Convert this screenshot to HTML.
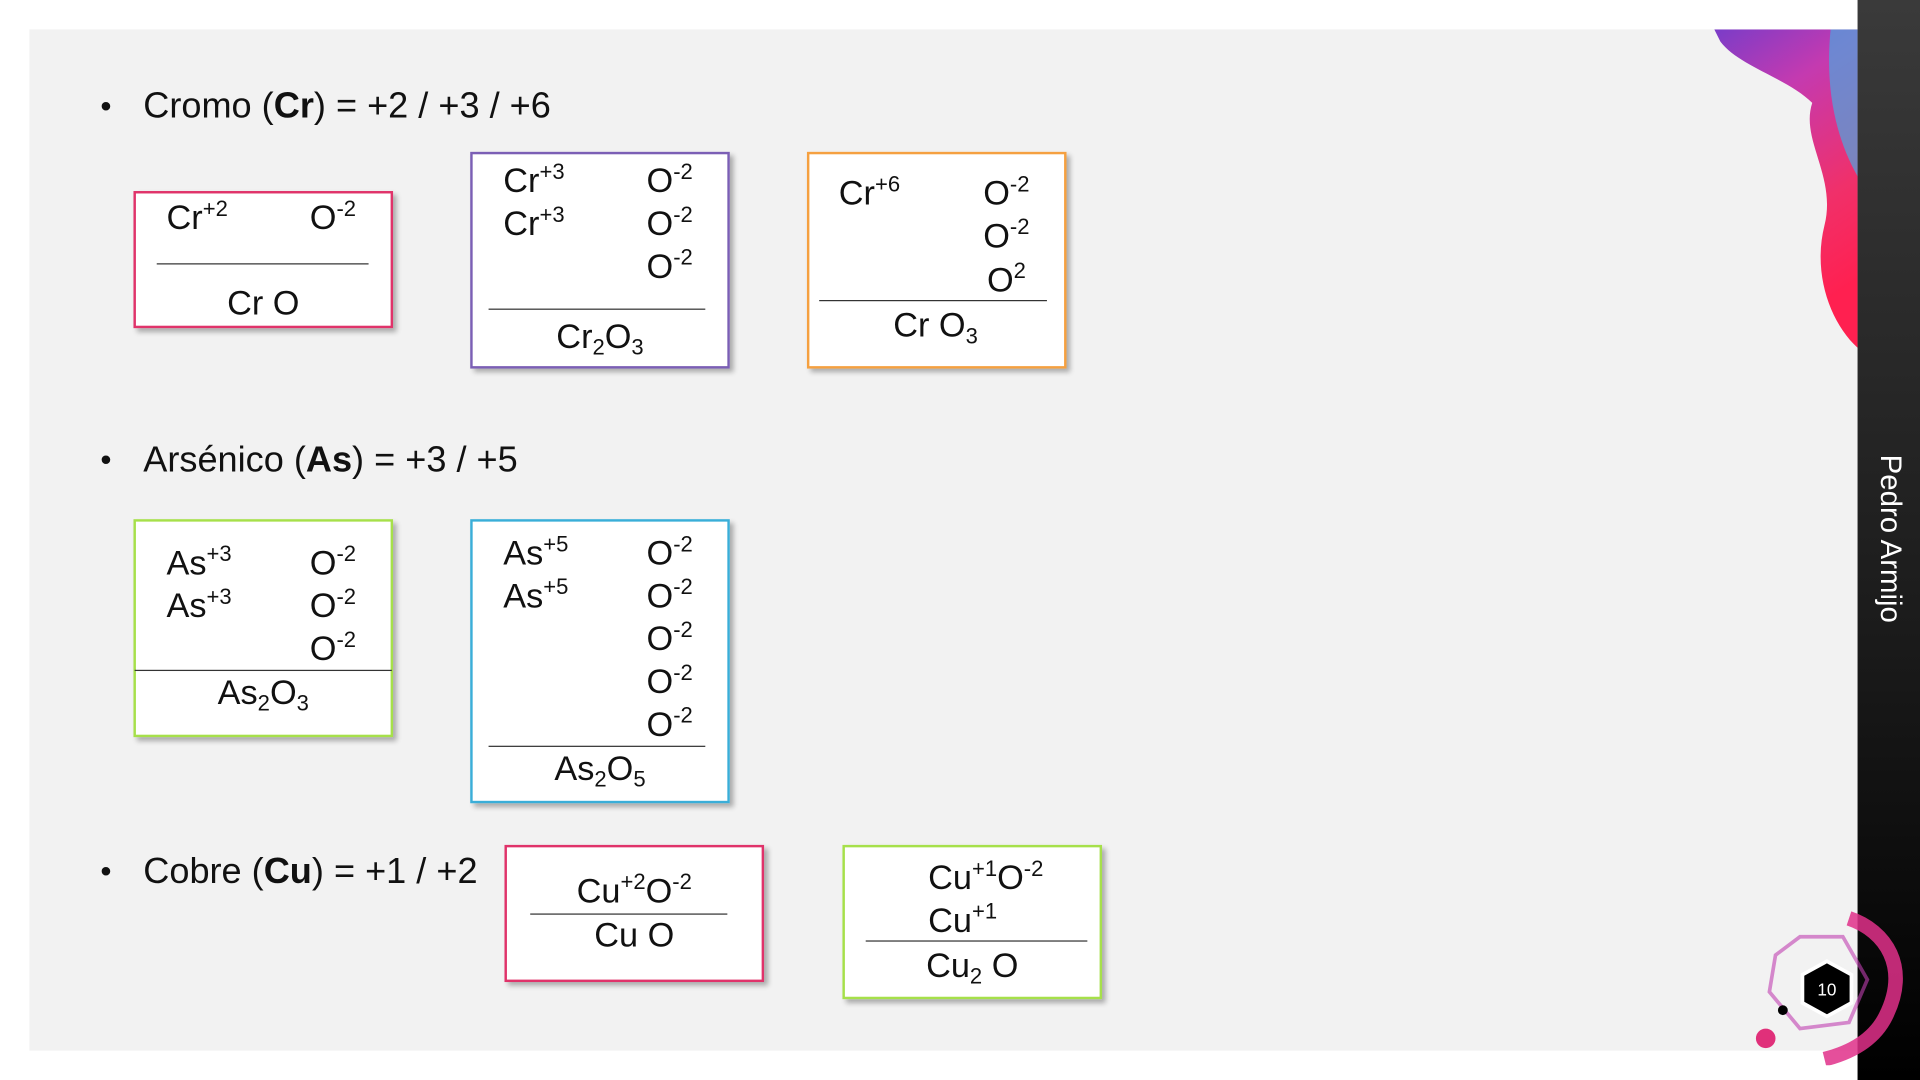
<!DOCTYPE html>
<html><head><meta charset="utf-8"><style>
html,body{margin:0;padding:0;width:1920px;height:1080px;overflow:hidden;background:#fff;}
#s{position:absolute;left:0;top:0;width:1568px;height:882px;transform:scale(1.22449);transform-origin:0 0;font-family:"Liberation Sans",Arial,sans-serif;color:#111;}
.panel{position:absolute;left:24px;top:24px;width:1493px;height:834px;background:#f2f2f2;}
.bar{position:absolute;left:1517px;top:0;width:51px;height:882px;background:linear-gradient(#3a3a3a,#1a1a1a 60%,#000);}
.name{position:absolute;left:1543px;top:440px;transform:translate(-50%,-50%) rotate(90deg);color:#fff;font-size:24px;white-space:nowrap;}
.bul{position:absolute;font-size:29.5px;white-space:nowrap;}
.bul:before{content:"•";position:absolute;left:-35px;font-size:26px;top:1px;}
.box{position:absolute;background:#fff;border:2px solid;box-sizing:border-box;box-shadow:3px 3px 4px rgba(0,0,0,.3);}
.t{position:absolute;font-size:28px;white-space:nowrap;line-height:1;}
.t sup{font-size:18px;vertical-align:0.6em;line-height:0;}
.t sub{font-size:18px;vertical-align:-0.3em;line-height:0;}
.ln{position:absolute;height:1px;background:#333;}
.c{transform:translateX(-50%);}
</style></head><body><div id="s">
<div class="panel"></div>
<svg style="position:absolute;left:1400px;top:24px" width="117" height="270">
<defs><linearGradient id="g" x1="0" y1="0" x2="0.3" y2="1"><stop offset="0" stop-color="#7a3cc8"/><stop offset="0.3" stop-color="#c43ab0"/><stop offset="0.7" stop-color="#f0306a"/><stop offset="1" stop-color="#ff2050"/></linearGradient></defs>
<path d="M0 0 L117 0 L117 260 C95 240 80 200 90 160 C100 120 70 90 80 60 C60 40 20 30 5 10Z" fill="url(#g)"/>
<path d="M95 0 L117 0 L117 120 C100 90 90 50 95 0Z" fill="#4aa8e0" opacity="0.7"/>
</svg>
<div class="bar"></div>
<div class="name">Pedro Armijo</div>
<svg style="position:absolute;left:1430px;top:740px" width="130" height="130">
<path d="M80 10 C110 20 130 50 110 90 C100 110 80 120 60 125" stroke="#e0308a" stroke-width="12" fill="none" opacity="0.85"/>
<path d="M20 40 L40 25 L75 25 L95 60 L80 95 L40 100 L15 70Z" stroke="#c040b0" stroke-width="3" fill="none" opacity="0.6"/>
<polygon points="62,45 82,56 82,79 62,90 42,79 42,56" fill="#000" stroke="#fff" stroke-width="3"/>
<text x="62" y="73" fill="#fff" font-size="14" text-anchor="middle" font-family="Liberation Sans">10</text>
<circle cx="12" cy="108" r="8" fill="#e0307a"/><circle cx="26" cy="85" r="4" fill="#000"/>
</svg>

<div class="bul" style="left:117px;top:70px">Cromo (<b>Cr</b>) = +2 / +3 / +6</div>
<div class="bul" style="left:117px;top:359px">Arsénico (<b>As</b>) = +3 / +5</div>
<div class="bul" style="left:117px;top:695px">Cobre (<b>Cu</b>) = +1 / +2</div>

<div class="box" style="left:109px;top:156px;width:212px;height:112px;border-color:#e0336a"></div>
<div class="t" style="left:136px;top:164px">Cr<sup>+2</sup></div><div class="t" style="left:253px;top:164px">O<sup>-2</sup></div>
<div class="ln" style="left:128px;top:215px;width:173px"></div>
<div class="t c" style="left:215px;top:234px">Cr O</div>

<div class="box" style="left:384px;top:124px;width:212px;height:177px;border-color:#7b5fb5"></div>
<div class="t" style="left:411px;top:134px">Cr<sup>+3</sup></div><div class="t" style="left:411px;top:169px">Cr<sup>+3</sup></div>
<div class="t" style="left:528px;top:134px">O<sup>-2</sup></div><div class="t" style="left:528px;top:169px">O<sup>-2</sup></div><div class="t" style="left:528px;top:204px">O<sup>-2</sup></div>
<div class="ln" style="left:399px;top:252px;width:177px"></div>
<div class="t c" style="left:490px;top:261px">Cr<sub>2</sub>O<sub>3</sub></div>

<div class="box" style="left:659px;top:124px;width:212px;height:177px;border-color:#f5a040"></div>
<div class="t" style="left:685px;top:144px">Cr<sup>+6</sup></div>
<div class="t" style="left:803px;top:144px">O<sup>-2</sup></div><div class="t" style="left:803px;top:179px">O<sup>-2</sup></div><div class="t" style="left:806px;top:215px">O<sup>2</sup></div>
<div class="ln" style="left:669px;top:245px;width:186px"></div>
<div class="t c" style="left:764px;top:252px">Cr O<sub>3</sub></div>

<div class="box" style="left:109px;top:424px;width:212px;height:178px;border-color:#a6e04a"></div>
<div class="t" style="left:136px;top:446px">As<sup>+3</sup></div><div class="t" style="left:136px;top:481px">As<sup>+3</sup></div>
<div class="t" style="left:253px;top:446px">O<sup>-2</sup></div><div class="t" style="left:253px;top:481px">O<sup>-2</sup></div><div class="t" style="left:253px;top:516px">O<sup>-2</sup></div>
<div class="ln" style="left:110px;top:547px;width:210px"></div>
<div class="t c" style="left:215px;top:552px">As<sub>2</sub>O<sub>3</sub></div>

<div class="box" style="left:384px;top:424px;width:212px;height:232px;border-color:#3aaed8"></div>
<div class="t" style="left:411px;top:438px">As<sup>+5</sup></div><div class="t" style="left:411px;top:473px">As<sup>+5</sup></div>
<div class="t" style="left:528px;top:438px">O<sup>-2</sup></div><div class="t" style="left:528px;top:473px">O<sup>-2</sup></div><div class="t" style="left:528px;top:508px">O<sup>-2</sup></div><div class="t" style="left:528px;top:543px">O<sup>-2</sup></div><div class="t" style="left:528px;top:578px">O<sup>-2</sup></div>
<div class="ln" style="left:399px;top:609px;width:177px"></div>
<div class="t c" style="left:490px;top:614px">As<sub>2</sub>O<sub>5</sub></div>

<div class="box" style="left:412px;top:690px;width:212px;height:112px;border-color:#e0336a"></div>
<div class="t c" style="left:518px;top:714px">Cu<sup>+2</sup>O<sup>-2</sup></div>
<div class="ln" style="left:433px;top:746px;width:161px"></div>
<div class="t c" style="left:518px;top:750px">Cu O</div>

<div class="box" style="left:688px;top:690px;width:212px;height:126px;border-color:#a6e04a"></div>
<div class="t" style="left:758px;top:703px">Cu<sup>+1</sup>O<sup>-2</sup></div>
<div class="t" style="left:758px;top:738px">Cu<sup>+1</sup></div>
<div class="ln" style="left:707px;top:768px;width:181px"></div>
<div class="t c" style="left:794px;top:775px">Cu<sub>2</sub> O</div>
</div></body></html>
